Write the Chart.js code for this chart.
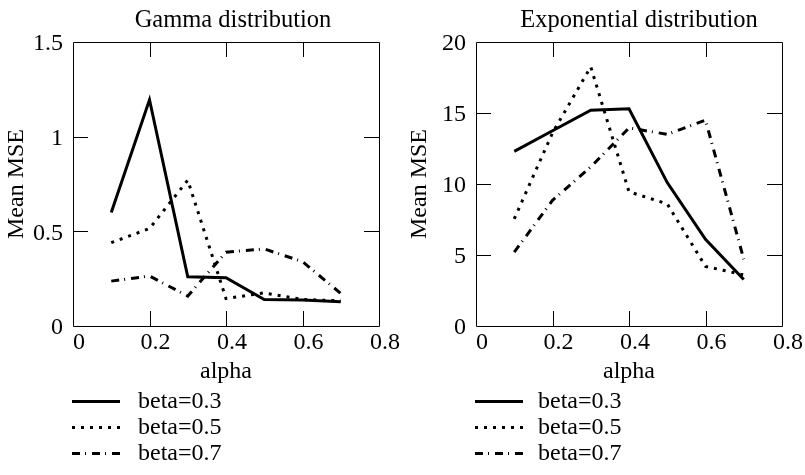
<!DOCTYPE html>
<html>
<head>
<meta charset="utf-8">
<script src="https://cdn.jsdelivr.net/npm/chart.js@4/dist/chart.umd.min.js"></script>
<style>
  html, body { margin: 0; padding: 0; background: #fff; }
  #wrap { position: relative; width: 805px; height: 475px; overflow: hidden; }
  #c1 { position: absolute; left: 0; top: 0; }
  #c2 { position: absolute; left: 403px; top: 0; }
</style>
</head>
<body>
<div id="wrap">
  <canvas id="c1" width="403" height="475"></canvas>
  <canvas id="c2" width="402" height="475"></canvas>
</div>
<script>
// ---- data ----
const alphaValues = [0.1, 0.2, 0.3, 0.4, 0.5, 0.6, 0.7];
const seriesLabels = ['beta=0.3', 'beta=0.5', 'beta=0.7'];

const gammaBeta03 = [0.60, 1.195, 0.26, 0.255, 0.14, 0.137, 0.128];
const gammaBeta05 = [0.44, 0.515, 0.77, 0.145, 0.175, 0.14, 0.133];
const gammaBeta07 = [0.237, 0.264, 0.158, 0.39, 0.407, 0.34, 0.172];

const expBeta03 = [12.3, 13.75, 15.2, 15.3, 10.1, 6.1, 3.28];
const expBeta05 = [7.55, 13.6, 18.25, 9.45, 8.6, 4.2, 3.6];
const expBeta07 = [5.2, 8.85, 11.2, 13.95, 13.5, 14.5, 4.7];

const xTickLabels = ['0', '0.2', '0.4', '0.6', '0.8'];
const gammaYTickLabels = ['0', '0.5', '1', '1.5'];
const expYTickLabels = ['0', '5', '10', '15', '20'];

const titles = ['Gamma distribution', 'Exponential distribution'];
const xTitle = 'alpha';
const yTitle = 'Mean MSE';

// ---- styles ----
const FONT = "'Liberation Serif', 'Times New Roman', Times, serif";
Chart.defaults.font.family = FONT;
Chart.defaults.font.size = 24;
Chart.defaults.color = '#000';

const styles = [
  { borderDash: [], borderWidth: 3 },
  { borderDash: [3, 6], borderWidth: 3 },
  { borderDash: [8, 5, 1, 6], borderWidth: 3 }
];

function toPoints(ys) { return alphaValues.map((x, i) => ({ x: x, y: ys[i] })); }

const frameTicks = {
  id: 'frameTicks',
  afterDatasetsDraw(chart) {
    const { ctx, chartArea: a } = chart;
    const L = 15;
    ctx.save();
    ctx.strokeStyle = '#000';
    ctx.lineWidth = 1;
    ctx.beginPath();
    ctx.rect(a.left + 0.5, a.top + 0.5, a.right - a.left, a.bottom - a.top);
    ctx.stroke();
    const xs = chart.scales.x, ys = chart.scales.y;
    ctx.beginPath();
    xs.ticks.forEach(t => {
      if (t.value <= xs.min || t.value >= xs.max) return;
      const px = Math.round(xs.getPixelForValue(t.value)) + 0.5;
      ctx.moveTo(px, a.top); ctx.lineTo(px, a.top + L);
      ctx.moveTo(px, a.bottom); ctx.lineTo(px, a.bottom - L);
    });
    ys.ticks.forEach(t => {
      if (t.value <= ys.min || t.value >= ys.max) return;
      const py = Math.round(ys.getPixelForValue(t.value)) + 0.5;
      ctx.moveTo(a.left, py); ctx.lineTo(a.left + L, py);
      ctx.moveTo(a.right, py); ctx.lineTo(a.right - L, py);
    });
    ctx.stroke();
    ctx.restore();
  }
};

const titleAndLegend = {
  id: 'titleAndLegend',
  afterDraw(chart, args, opts) {
    const ctx = chart.ctx;
    ctx.save();
    ctx.fillStyle = '#000';
    ctx.font = '24.5px ' + FONT;
    ctx.textAlign = 'center';
    ctx.textBaseline = 'alphabetic';
    ctx.fillText(opts.title, opts.titleX, 27);
    // legend
    ctx.font = '24px ' + FONT;
    ctx.textAlign = 'left';
    ctx.textBaseline = 'middle';
    chart.data.datasets.forEach((ds, i) => {
      const y = opts.legendY + i * 26;
      ctx.save();
      ctx.strokeStyle = ds.borderColor;
      ctx.lineWidth = ds.borderWidth;
      ctx.setLineDash(ds.borderDash || []);
      ctx.beginPath();
      ctx.moveTo(opts.lineX0, y + 0.5);
      ctx.lineTo(opts.lineX1, y + 0.5);
      ctx.stroke();
      ctx.restore();
      ctx.fillText(ds.label, opts.textX, y + 1);
    });
    ctx.restore();
  }
};

function makeChart(canvasId, seriesList, yMax, yStep, yLabels, title, titleX, rightPad, textX) {
  return new Chart(document.getElementById(canvasId), {
    type: 'line',
    data: {
      datasets: seriesList.map((s, i) => ({
        label: seriesLabels[i],
        data: toPoints(s),
        borderColor: '#000',
        backgroundColor: '#000',
        borderWidth: styles[i].borderWidth,
        borderDash: styles[i].borderDash,
        pointRadius: 0,
        tension: 0,
        fill: false
      }))
    },
    options: {
      responsive: false,
      devicePixelRatio: 1,
      animation: false,
      events: [],
      layout: { padding: { top: 42, left: 0, right: rightPad, bottom: 89 } },
      plugins: {
        legend: { display: false },
        tooltip: { enabled: false },
        titleAndLegend: { title: title, titleX: titleX, legendY: 401, lineX0: 72, lineX1: 120, textX: textX }
      },
      scales: {
        x: {
          type: 'linear', min: 0, max: 0.8,
          ticks: { stepSize: 0.2, padding: 2, labelOffset: 6, maxRotation: 0,
                   callback: (v, i) => xTickLabels[i] },
          grid: { display: false, drawTicks: false },
          border: { display: false },
          title: { display: true, text: xTitle, padding: { top: 0, bottom: 0 } },
          afterFit: s => { s.height = 60; }
        },
        y: {
          type: 'linear', min: 0, max: yMax,
          ticks: { stepSize: yStep, padding: 10, labelOffset: 2,
                   callback: (v, i) => yLabels[i] },
          grid: { display: false, drawTicks: false },
          border: { display: false },
          title: { display: true, text: yTitle, padding: { top: 2, bottom: 0 } },
          afterFit: s => { s.width = 73; }
        }
      }
    },
    plugins: [frameTicks, titleAndLegend]
  });
}

makeChart('c1', [gammaBeta03, gammaBeta05, gammaBeta07], 1.5, 0.5, gammaYTickLabels, titles[0], 233, 24, 138);
makeChart('c2', [expBeta03, expBeta05, expBeta07], 20, 5, expYTickLabels, titles[1], 236, 23, 135);
</script>
</body>
</html>
